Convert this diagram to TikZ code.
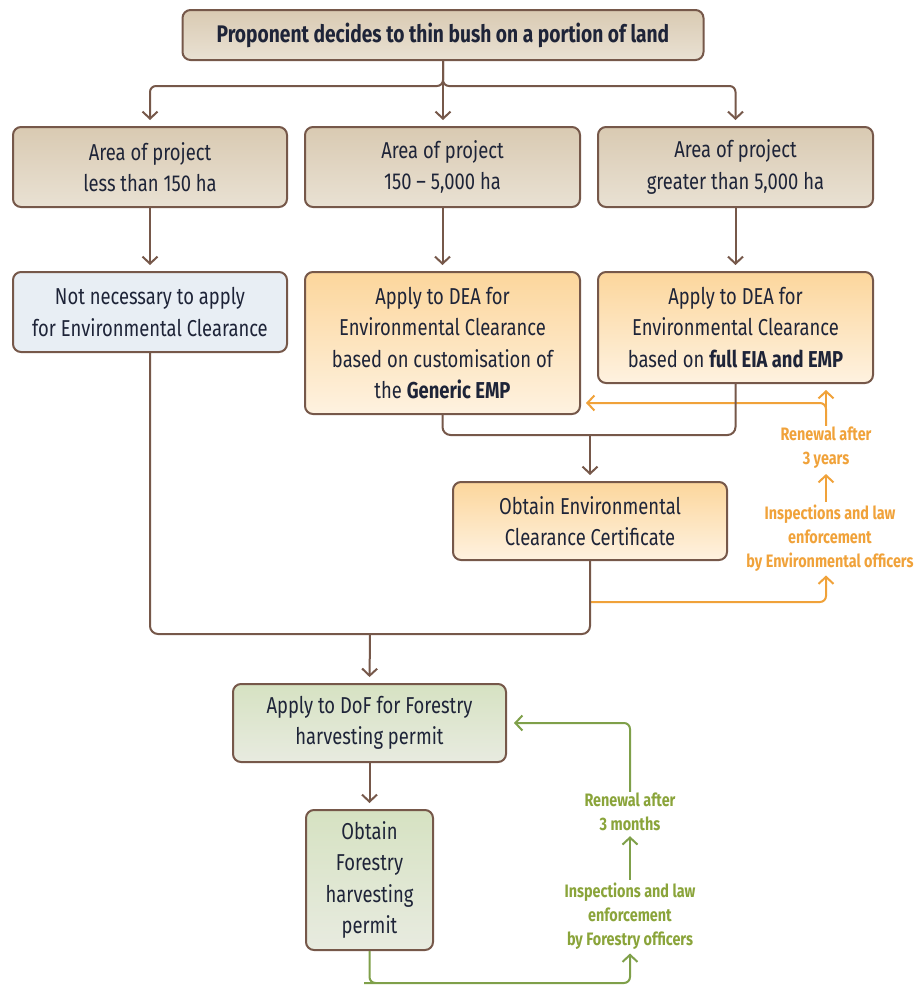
\documentclass[tikz,border=0pt]{standalone}
\usepackage{fontspec}
\setmainfont{Fira Sans}[FakeStretch=0.8]
\usetikzlibrary{arrows.meta,calc}
\definecolor{brn}{HTML}{76584A}
\definecolor{txt}{HTML}{1E2438}
\definecolor{tanT}{HTML}{D9CAB2}
\definecolor{tanB}{HTML}{E9E1D3}
\definecolor{orT}{HTML}{FCD69C}
\definecolor{orB}{HTML}{FEF2E0}
\definecolor{grT}{HTML}{D6E2C2}
\definecolor{grB}{HTML}{E8EBE0}
\definecolor{blu}{HTML}{E8EEF4}
\definecolor{orl}{HTML}{F0A23A}
\definecolor{grl}{HTML}{7FA04A}
\definecolor{grtxt}{HTML}{8AA43A}
\tikzset{
  box/.style={draw=brn, line width=2pt, rounded corners=8pt, align=center, text=txt,
    font=\fontsize{23}{31.5}\selectfont, inner sep=0pt},
  tanbox/.style={box, top color=tanT, bottom color=tanB},
  orbox/.style={box, top color=orT, bottom color=orB},
  grbox/.style={box, top color=grT, bottom color=grB},
  blubox/.style={box, fill=blu},
  tip/.style={-{Straight Barb[length=7pt,width=15pt,line width=2pt]}},
  br/.style={draw=brn, line width=2pt},
  orc/.style={draw=orl, line width=2pt},
  grc/.style={draw=grl, line width=2pt},
  orlab/.style={text=orl, align=center, font=\fontsize{18}{24}\selectfont\bfseries, inner sep=1pt},
  grlab/.style={text=grtxt, align=center, font=\fontsize{18}{24}\selectfont\bfseries, inner sep=1pt},
}
\begin{document}
\begin{tikzpicture}[x=1pt,y=-1pt]
\useasboundingbox (0,0) rectangle (919,985);
% boxes
\node[tanbox, minimum width=521pt, minimum height=50pt, font=\fontsize{24}{31}\selectfont\bfseries] (top) at (443,35) {Proponent decides to thin bush on a portion of land};
\node[tanbox, minimum width=274pt, minimum height=80pt] (a1) at (150,167) {Area of project\\less than 150 ha};
\node[tanbox, minimum width=275pt, minimum height=80pt] (a2) at (442.5,167) {Area of project\\150 -- 5,000 ha};
\node[tanbox, minimum width=275pt, minimum height=80pt] (a3) at (735.5,167) {Area of project\\greater than 5,000 ha};
\node[blubox, minimum width=274pt, minimum height=80pt] (n1) at (150,312) {Not necessary to apply\\for Environmental Clearance};
\node[orbox, minimum width=275pt, minimum height=142pt] (d2) at (442.5,343) {Apply to DEA for\\Environmental Clearance\\based on customisation of\\the \textbf{Generic EMP}};
\node[orbox, minimum width=275pt, minimum height=111pt] (d3) at (735.5,327.5) {Apply to DEA for\\Environmental Clearance\\based on \textbf{full EIA and EMP}};
\node[orbox, minimum width=274pt, minimum height=78pt] (cert) at (590,521) {Obtain Environmental\\Clearance Certificate};
\node[grbox, minimum width=273pt, minimum height=78pt] (dof) at (369.5,723) {Apply to DoF for Forestry\\harvesting permit};
\node[grbox, minimum width=127pt, minimum height=140pt] (obt) at (369.5,880) {Obtain\\Forestry\\harvesting\\permit};
% labels
\node[orlab] (envR) at (826,448) {Renewal after\\3 years};
\node[orlab] (envI) at (830,538) {Inspections and law\\enforcement\\by Environmental officers};
\node[grlab] (forR) at (630,812) {Renewal after\\3 months};
\node[grlab] (forI) at (630,916) {Inspections and law\\enforcement\\by Forestry officers};
% coordinates
\coordinate (m1) at (590,435);
\coordinate (m2) at (370,634);
\coordinate (o1) at (590,602);
\coordinate (o2) at (826,602);
\coordinate (o3) at (826,403);
\coordinate (g1) at (370,983);
% orange connectors (under brown)
\draw[orc,tip,rounded corners=6pt,shorten >=3pt] (o1) -- (o2) -- (o2 |- envI.south);
\draw[orc,tip,shorten >=4pt,shorten <=2pt] (o2 |- envI.north) -- (envR.south);
\draw[orc,tip,shorten >=6pt] (envR.north) -- (envR.north |- d3.south);
\draw[orc,tip,rounded corners=6pt,shorten >=5pt] (envR.north) |- (d2.east |- o3);
% green connectors
\draw[grc,tip,rounded corners=6pt,shorten >=3pt] (obt.south) |- (g1) -| (forI.south);
\draw[grc,tip,shorten >=4pt,shorten <=2pt] (forI.north) -- (forR.south);
\draw[grc,tip,rounded corners=6pt,shorten >=7pt] (forR.north) |- (dof.east);
% brown connectors
\draw[br,tip,rounded corners=6pt,shorten >=6pt] (top.south) -- ++(0,25) -| (a1.north);
\draw[br,tip,rounded corners=6pt,shorten >=6pt] (top.south) -- ++(0,25) -| (a3.north);
\draw[br,tip,shorten >=6pt] (top.south) -- (top.south |- a2.north);
\draw[br,tip,shorten >=6pt] (a1.south) -- (n1.north);
\draw[br,tip,shorten >=6pt] (a2.south) -- (d2.north);
\draw[br,tip,shorten >=6pt] (a3.south) -- (d3.north);
\draw[br,rounded corners=8pt] (d2.south) |- (m1) -| (d3.south);
\draw[br,tip,shorten >=6pt] (m1) -- (cert.north);
\draw[br,rounded corners=8pt] (n1.south) |- (m2) -| (cert.south);
\draw[br,tip,shorten >=6pt] (m2) -- (dof.north);
\draw[br,tip,shorten >=6pt] (dof.south) -- (obt.north);
\end{tikzpicture}
\end{document}
